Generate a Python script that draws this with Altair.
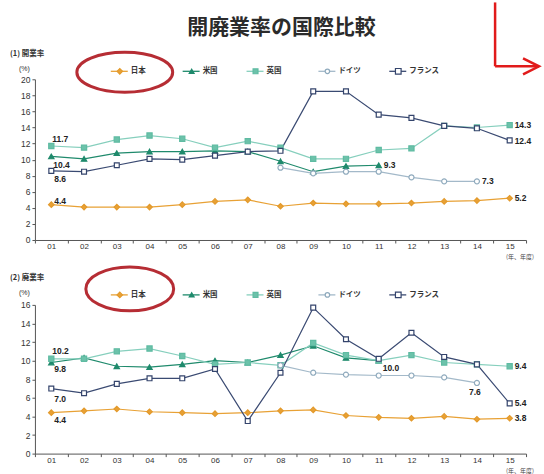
import altair as alt
import pandas as pd

# ---- data -------------------------------------------------------------
years = ["01", "02", "03", "04", "05", "06", "07", "08", "09", "10",
         "11", "12", "13", "14", "15"]
series = ["日本", "米国", "英国", "ドイツ", "フランス"]

# (1) 開業率 (%)
jp_open = [4.4, 4.1, 4.1, 4.1, 4.4, 4.8, 5.0, 4.2, 4.6, 4.5, 4.5, 4.6, 4.8, 4.9, 5.2]
us_open = [10.4, 10.1, 10.8, 11.0, 11.0, 11.1, 11.0, 9.8, 8.5, 9.2, 9.3, None, None, None, None]
uk_open = [11.7, 11.5, 12.5, 13.0, 12.6, 11.5, 12.3, 11.5, 10.1, 10.1, 11.2, 11.4, 14.2, 14.0, 14.3]
de_open = [None, None, None, None, None, None, None, 9.0, 8.3, 8.5, 8.5, 7.8, 7.3, 7.3, None]
fr_open = [8.6, 8.5, 9.3, 10.1, 10.0, 10.5, 11.0, 11.1, 18.5, 18.5, 15.6, 15.2, 14.2, 13.9, 12.4]

# (2) 廃業率 (%)
jp_close = [4.4, 4.6, 4.8, 4.5, 4.4, 4.3, 4.4, 4.6, 4.7, 4.1, 3.9, 3.8, 4.0, 3.7, 3.8]
us_close = [9.8, 10.3, 9.4, 9.3, 9.6, 10.0, 9.8, 10.6, 11.6, 10.3, 10.0, None, None, None, None]
uk_close = [10.2, 10.2, 11.0, 11.3, 10.5, 9.6, 9.8, 9.5, 11.9, 10.6, 10.0, 10.6, 9.8, 9.6, 9.4]
de_close = [None, None, None, None, None, None, None, 9.5, 8.7, 8.5, 8.4, 8.4, 8.2, 7.6, None]
fr_close = [7.0, 6.5, 7.5, 8.1, 8.1, 9.1, 3.5, 8.7, 15.7, 12.3, 10.2, 13.0, 10.4, 9.6, 5.4]

# ---- styles -----------------------------------------------------------
line_colors = ["#e8a135", "#1f8a6c", "#86cfbd", "#a3b9c9", "#3a4a72"]
stroke_colors = ["#e39a2c", "#1f8a6c", "#5fbba2", "#8faabd", "#34446c"]
fill_colors = ["#e8a135", "#1f8a6c", "#6cc2aa", "#ffffff", "#ffffff"]
shapes = ["diamond", "triangle-up", "square", "circle", "square"]
sizes = [30, 24, 24, 20, 32]
JP_FONT = "Noto Sans CJK JP"
NUM_FONT = "Liberation Sans"
RED = "#e11b1b"
ELLIPSE_RED = "#b3222a"
W = 492


def long_frame(cols):
    rows = []
    for name, vals in zip(series, cols):
        for y, v in zip(years, vals):
            if v is not None:
                rows.append({"year": y, "series": name, "value": v})
    return pd.DataFrame(rows)


def one(**kw):
    return pd.DataFrame([kw])


def panel(cols, ymax, height, title, legend_y, ellipse, value_labels, extra=None):
    df = long_frame(cols)
    x = alt.X("year:O", scale=alt.Scale(type="band", domain=years, paddingInner=0, paddingOuter=0),
              bandPosition=0.5,
              axis=alt.Axis(title=None, labelAngle=0, tickBand="extent", tickSize=3,
                            labelPadding=0, labelFontSize=8, labelFont=NUM_FONT))
    y = alt.Y("value:Q", scale=alt.Scale(domain=[0, ymax], nice=False, zero=True),
              axis=alt.Axis(title=None, values=list(range(0, ymax + 1, 2)), grid=False,
                            tickSize=3, labelPadding=2, labelFontSize=8.5, labelFont=NUM_FONT))
    col = alt.Color("series:N", scale=alt.Scale(domain=series, range=line_colors), legend=None)

    lines = alt.Chart(df).mark_line(strokeWidth=1.2).encode(x=x, y=y, color=col)
    pts = alt.Chart(df).mark_point(strokeWidth=1.2, opacity=1, fillOpacity=1).encode(
        x=x, y=y,
        stroke=alt.Stroke("series:N", scale=alt.Scale(domain=series, range=stroke_colors), legend=None),
        fill=alt.Fill("series:N", scale=alt.Scale(domain=series, range=fill_colors), legend=None),
        shape=alt.Shape("series:N", scale=alt.Scale(domain=series, range=shapes), legend=None),
        size=alt.Size("series:N", scale=alt.Scale(domain=series, range=sizes), legend=None),
    )
    layers = [lines, pts]

    # value labels taken from the series values
    for name, yr, dx, dy, align in value_labels:
        vals = cols[series.index(name)]
        v = vals[years.index(yr)]
        layers.append(
            alt.Chart(one(year=yr, value=v)).mark_text(
                dx=dx, dy=dy, align=align, baseline="middle", fontSize=8.5,
                fontWeight="bold", font=NUM_FONT, color="#222"
            ).encode(x=x, y=y, text=alt.Text("value:Q", format=".1f"))
        )

    # panel heading and unit
    layers.append(alt.Chart(one(t=title)).mark_text(
        align="left", baseline="middle", fontSize=7.5, fontWeight="bold", font=JP_FONT, color="#333"
    ).encode(x=alt.value(-25), y=alt.value(legend_y - 17), text="t:N"))
    layers.append(alt.Chart(one(t="(%)")).mark_text(
        align="left", baseline="middle", fontSize=7, font=NUM_FONT, color="#333"
    ).encode(x=alt.value(-16), y=alt.value(legend_y - 2), text="t:N"))
    layers.append(alt.Chart(one(t="(年、年度)")).mark_text(
        align="left", baseline="middle", fontSize=6, font=JP_FONT, color="#444"
    ).encode(x=alt.value(472), y=alt.value(height + 17.5), text="t:N"))

    # hand-placed legend row
    legend_x = [76, 148, 212, 284, 355]
    for i, name in enumerate(series):
        lx = legend_x[i]
        layers.append(alt.Chart(one(n=name)).mark_rule(color=line_colors[i], strokeWidth=1.3).encode(
            x=alt.value(lx), x2=alt.value(lx + 17), y=alt.value(legend_y)))
        layers.append(alt.Chart(one(n=name)).mark_point(
            shape=shapes[i], size=sizes[i], fill=fill_colors[i], stroke=stroke_colors[i],
            strokeWidth=1.2, opacity=1, fillOpacity=1
        ).encode(x=alt.value(lx + 9), y=alt.value(legend_y)))
        layers.append(alt.Chart(one(n=name)).mark_text(
            align="left", baseline="middle", fontSize=7.5, fontWeight="bold", font=JP_FONT, color="#333"
        ).encode(x=alt.value(lx + 20), y=alt.value(legend_y), text="n:N"))

    # red ellipse around the 日本 entry
    ex, ey, ew, eh = ellipse
    r = eh / ew
    path = f"M -1 0 A 1 {r:.3f} 0 1 0 1 0 A 1 {r:.3f} 0 1 0 -1 0 Z"
    layers.append(alt.Chart(one(n="e")).mark_point(
        shape=path, size=ew * ew, filled=False, stroke=ELLIPSE_RED, strokeWidth=3, opacity=0.95
    ).encode(x=alt.value(ex), y=alt.value(ey)))

    if extra:
        layers.extend(extra)

    return alt.layer(*layers).properties(width=W, height=height)


# heading and red arrow above the first panel
top_extra = [
    alt.Chart(one(t="開廃業率の国際比較")).mark_text(
        align="center", baseline="middle", fontSize=21, fontWeight="bold", font=JP_FONT, color="#2b2b2b"
    ).encode(x=alt.value(247), y=alt.value(-51), text="t:N"),
    alt.Chart(one(n="a")).mark_rule(color=RED, strokeWidth=2.5).encode(
        x=alt.value(461), y=alt.value(-77), y2=alt.value(-13)),
    alt.Chart(one(n="a")).mark_rule(color=RED, strokeWidth=2.5).encode(
        x=alt.value(461), x2=alt.value(505), y=alt.value(-13)),
    alt.Chart(one(n="a")).mark_point(
        shape="M -1 -1 L 1 0 L -1 1", size=256, filled=False, stroke=RED, strokeWidth=2.5, opacity=1
    ).encode(x=alt.value(497), y=alt.value(-13)),
]

open_labels = [
    ("英国", "01", 1, -7, "left"),
    ("米国", "01", 2, 9, "left"),
    ("フランス", "01", 3, 8, "left"),
    ("日本", "01", 3, -4, "left"),
    ("英国", "15", 5, 0, "left"),
    ("フランス", "15", 5, 1, "left"),
    ("米国", "11", 5, 0, "left"),
    ("ドイツ", "14", 5, 0, "left"),
    ("日本", "15", 5, 0, "left"),
]
close_labels = [
    ("英国", "01", 1, -8, "left"),
    ("米国", "01", 3, 7, "left"),
    ("フランス", "01", 3, 10, "left"),
    ("日本", "01", 3, 7, "left"),
    ("米国", "11", 4, 7, "left"),
    ("ドイツ", "14", -2, 9, "center"),
    ("フランス", "15", 5, 0, "left"),
    ("日本", "15", 5, 0, "left"),
    ("英国", "15", 5, 0, "left"),
]

p1 = panel([jp_open, us_open, uk_open, de_open, fr_open], 20, 161, "(1) 開業率", -8,
           (90, -7, 96, 40), open_labels, top_extra)
p2 = panel([jp_close, us_close, uk_close, de_close, fr_close], 16, 149, "(2) 廃業率", -10,
           (95, -16, 88, 44), close_labels)

chart = alt.vconcat(p1, p2, spacing=65, bounds="flush").properties(
    padding={"left": 10, "top": 0, "right": 0, "bottom": 0}
).configure_view(stroke=None).configure_axis(
    domainColor="#555", tickColor="#555", labelColor="#333", domainWidth=1
)

chart.save("out.html", embed_options={"renderer": "svg", "actions": False})
